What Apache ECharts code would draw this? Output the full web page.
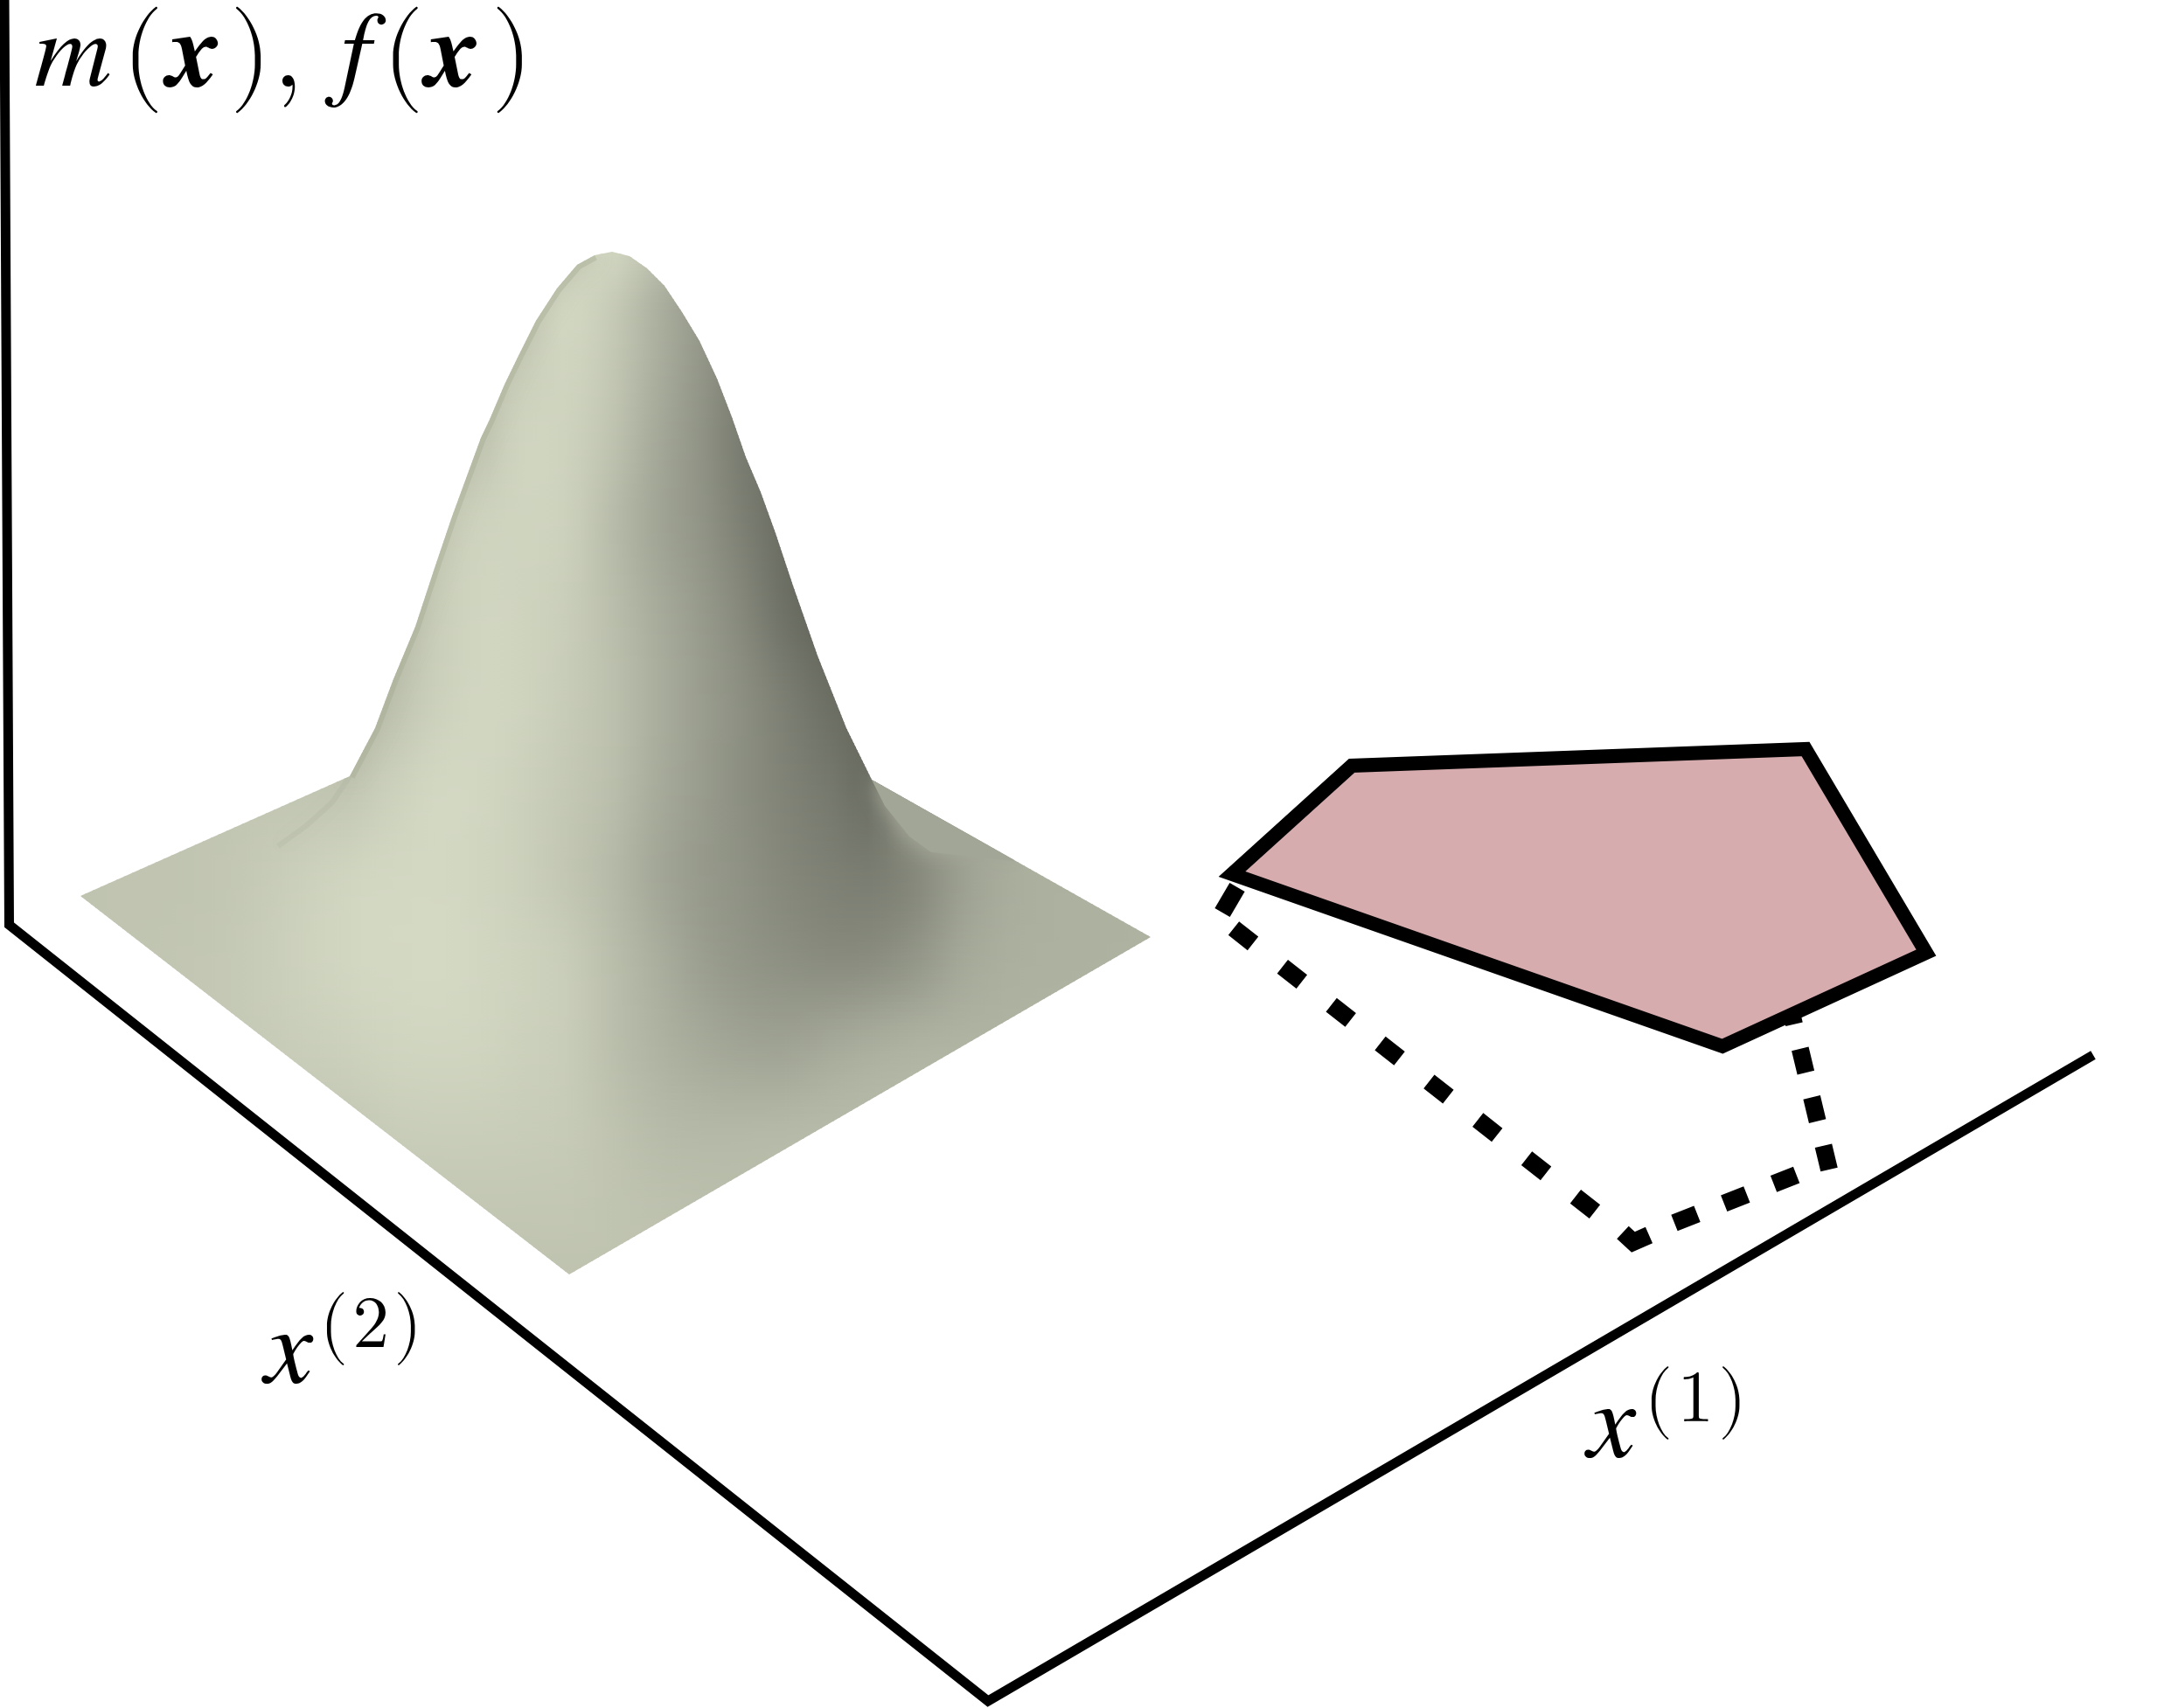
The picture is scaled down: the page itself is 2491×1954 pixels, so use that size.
<!DOCTYPE html>
<html><head><meta charset="utf-8">
<style>html,body{margin:0;padding:0;background:#fff}#c{width:2491px;height:1954px}</style>
<script src="https://cdn.jsdelivr.net/npm/echarts@6/dist/echarts.min.js"></script>
</head><body><div id="c"></div>
<script>
// Axis frame of the illustration
const axisFrame = [[5,-6],[10.5,1058],[1130,1946],[2394,1207]];
// Outline of the surface as seen in the picture
const surfaceOutline = [[92,1025],[400,888],[429,833],[450,777],[475,717],[497,650],[517,591],[550,501],[560,480],[577,440],[593,407],[613,367],[637,330],[660,303],[680,292],[700,288],[720,293],[740,307],[760,327],[780,357],[800,390],[820,433],[837,477],[853,523],[870,563],[887,610],[907,670],[935,750],[968,833],[997,892],[1316,1072],[651,1458]];
const leftEdge = [[400,888],[429,833],[450,777],[475,717],[497,650],[517,591],[550,501],[560,480],[577,440],[593,407],[613,367],[637,330],[660,303],[680,292]];
const leftCrease = [[400,888],[380,918],[350,945],[318,968]];
const rightWedge = [[997,892],[1012,922],[1040,957],[1065,975],[1160,985],[1160,950]];
// Surface brightness
const shadeX = [90,250,400,450,500,550,600,650,700,750,800,850,900,950,1000,1050,1100,1150,1200,1320];
const shadeY = [290,350,400,500,600,700,800,900,1000,1100,1200,1300,1400,1460];
const shade = [
 [205,205,205,205,205,205,205,208,212,190,165,145,135,130,130,130,130,130,130,130],
 [205,205,205,205,205,205,205,214,203,178,155,135,120,120,120,120,120,120,120,120],
 [205,205,205,205,205,205,205,213,200,176,152,128,112,110,110,110,110,110,110,110],
 [205,205,205,205,205,200,212,210,195,170,148,123,110,105,105,105,105,105,105,105],
 [205,205,205,205,205,210,212,208,188,166,149,127,108,100,100,100,100,100,100,100],
 [205,205,205,195,205,213,211,205,190,172,155,135,112,100,95,95,95,95,95,95],
 [198,198,190,195,208,214,211,203,192,175,158,142,125,110,102,100,100,100,100,100],
 [198,198,198,208,215,214,208,200,190,172,157,142,130,120,113,165,168,172,175,178],
 [196,198,212,215,216,213,207,198,186,168,155,145,135,128,125,138,160,172,176,178],
 [196,200,214,216,217,214,210,204,190,175,160,150,144,140,142,152,168,175,177,178],
 [196,200,208,212,213,212,208,204,191,180,171,165,164,170,175,179,180,180,180,180],
 [196,198,200,204,205,205,204,202,195,188,185,185,186,187,187,187,187,187,187,187],
 [196,198,198,198,198,198,198,198,196,194,192,190,190,190,190,190,190,190,190,190],
 [195,195,195,195,195,195,195,195,195,194,192,190,190,190,190,190,190,190,190,190]
];
// Pentagon (constraint region) and its dashed shadow
const pentagon = [[1409,1000],[1546,876],[2065,857],[2203,1090],[1970,1197]];
const shadowStart = [[1415,1015],[1398,1044]];
const shadowLeg1 = [[1411,1062],[1853,1409]];
const shadowCorner = [[1856,1410],[1868,1421],[1886,1413]];
const shadowLeg2 = [[1915,1399],[2060,1342]];
const shadowLeg3 = [[2092,1338],[2048,1155]];

const chart = echarts.init(document.getElementById('c'), null, {renderer:'canvas'});
const col = g => `rgb(${Math.round(g*0.977)},${Math.round(g)},${Math.round(g*0.903)})`;
function cr(a,b,c,d,t){ return 0.5*(2*b+(c-a)*t+(2*a-5*b+4*c-d)*t*t+(3*b-a-3*c+d)*t*t*t); }
function locate(arr,v){
  let i=0; while(i<arr.length-2 && v>arr[i+1]) i++;
  return [i,Math.min(1,Math.max(0,(v-arr[i])/(arr[i+1]-arr[i])))];
}
function smoothAt(xv,yv){
  const [j,u]=locate(shadeX,xv),[i,t]=locate(shadeY,yv);
  const row=r=>{const R=shade[Math.min(shadeY.length-1,Math.max(0,r))];
    return cr(R[Math.max(0,j-1)],R[j],R[j+1],R[Math.min(shadeX.length-1,j+2)],u);};
  return cr(row(i-1),row(i),row(i+1),row(i+2),t);
}
function renderSurface(params, api){
  if (params.dataIndex !== 0) return;
  const pts = surfaceOutline.map(p=>api.coord(p));
  const xa = shadeX[0], xb = shadeX[shadeX.length-1];
  const x0 = api.coord([xa,0])[0], x1 = api.coord([xb,0])[0];
  const children = [];
  for (let y=shadeY[0]-4; y<shadeY[shadeY.length-1]; y+=4){
    const c0 = api.coord([0,y]), c1 = api.coord([0,y+4]);
    const stops=[];
    for(let k=0;k<=60;k++){ const sx=xa+(xb-xa)*k/60; stops.push({offset:k/60,color:col(smoothAt(sx,y+2))}); }
    children.push({type:'rect', shape:{x:x0,y:c0[1],width:x1-x0,height:c1[1]-c0[1]+1},
      style:{fill:{type:'linear',x:0,y:0,x2:1,y2:0,colorStops:stops}}});
  }
  children.push({type:'polygon',shape:{points:rightWedge.map(p=>api.coord(p))},
    style:{fill:col(166),shadowBlur:22,shadowColor:col(166)}});
  children.push({type:'polyline',shape:{points:leftEdge.map(p=>api.coord(p))},
    style:{fill:'none',stroke:'rgba(160,165,140,0.35)',lineWidth:12,shadowBlur:22,shadowColor:'rgba(160,165,140,0.8)'}});
  children.push({type:'polyline',shape:{points:leftCrease.map(p=>api.coord(p))},
    style:{fill:'none',stroke:'rgba(140,145,125,0.1)',lineWidth:6,shadowBlur:20,shadowColor:'rgba(140,145,125,0.5)'}});
  return {type:'group',clipPath:{type:'polygon',shape:{points:pts}},children};
}
function renderPentagon(params, api){
  if (params.dataIndex !== 0) return;
  return {type:'polygon',shape:{points:pentagon.map(p=>api.coord(p))},
    style:{fill:'#d6acae',stroke:'#000',lineWidth:16,lineJoin:'miter'}};
}
const ital = '"TeX Gyre Termes","FreeSerif","Liberation Serif"';
const roman = '"Latin Modern Math","Liberation Serif"';
const S = 122;
function label(formatter, rich){ return {show:true,opacity:1,position:'right',distance:0,formatter,rich,color:'#000'}; }
const it = (extra)=>Object.assign({fontFamily:ital,fontStyle:'italic',fontSize:S,color:'#000'},extra);
const ro = (extra)=>Object.assign({fontFamily:roman,fontSize:S,color:'#000'},extra);
function dashed(data, dash){
  return {type:'line',data,symbol:'none',silent:true,lineStyle:{color:'#000',width:20,type:dash,cap:'butt',join:'miter'},z:3};
}
const supRich = {
  o:ro({fontSize:84}),
  d:ro({fontSize:84,padding:[0,5,0,5]}),
  e:ro({fontSize:84})
};
const option = {
  animation:false,
  backgroundColor:'#fff',
  grid:{left:0,right:0,top:0,bottom:0},
  xAxis:{type:'value',min:0,max:2491,show:false},
  yAxis:{type:'value',min:0,max:1954,inverse:true,show:false},
  series:[
    {type:'custom',coordinateSystem:'cartesian2d',clip:false,silent:true,renderItem:renderSurface,data:surfaceOutline,z:1},
    {type:'line',data:axisFrame,symbol:'none',silent:true,clip:false,lineStyle:{color:'#000',width:11,join:'miter'},z:2},
    dashed(shadowStart,'solid'),
    dashed(shadowLeg1,[28,43]),
    dashed(shadowCorner,'solid'),
    dashed(shadowLeg2,[28,33]),
    dashed(shadowLeg3,[28,29]),
    {type:'custom',coordinateSystem:'cartesian2d',clip:false,silent:true,renderItem:renderPentagon,data:pentagon,z:4},
    {type:'scatter',symbolSize:1,silent:true,clip:false,itemStyle:{color:'rgba(0,0,0,0)'},z:5,data:[{value:[39,62],
      label:label('{m|m}{p1|(}{b1|x}{p2|)}{c|,}{f|f}{p3|(}{b2|x}{p4|)}',{
        m:it({}),
        f:it({padding:[0,0,0,43]}),
        b1:it({fontWeight:'bold',padding:[0,0,0,5]}),
        b2:it({fontWeight:'bold',padding:[0,0,0,3]}),
        p1:ro({padding:[0,0,0,12]}),
        p2:ro({padding:[0,0,0,10]}),
        p3:ro({padding:[0,0,0,14]}),
        p4:ro({padding:[0,0,0,13]}),
        c:ro({padding:[0,0,0,2]})
      })},
      {value:[302,1545],label:label('{a|x}',{a:it({fontSize:125})})},
      {value:[365,1515],label:label('{o|(}{d|2}{e|)}',supRich)},
      {value:[1815,1630],label:label('{a|x}',{a:it({fontSize:125})})},
      {value:[1880,1600],label:label('{o|(}{d|1}{e|)}',supRich)}
    ]}
  ]
};
chart.setOption(option);
</script></body></html>
